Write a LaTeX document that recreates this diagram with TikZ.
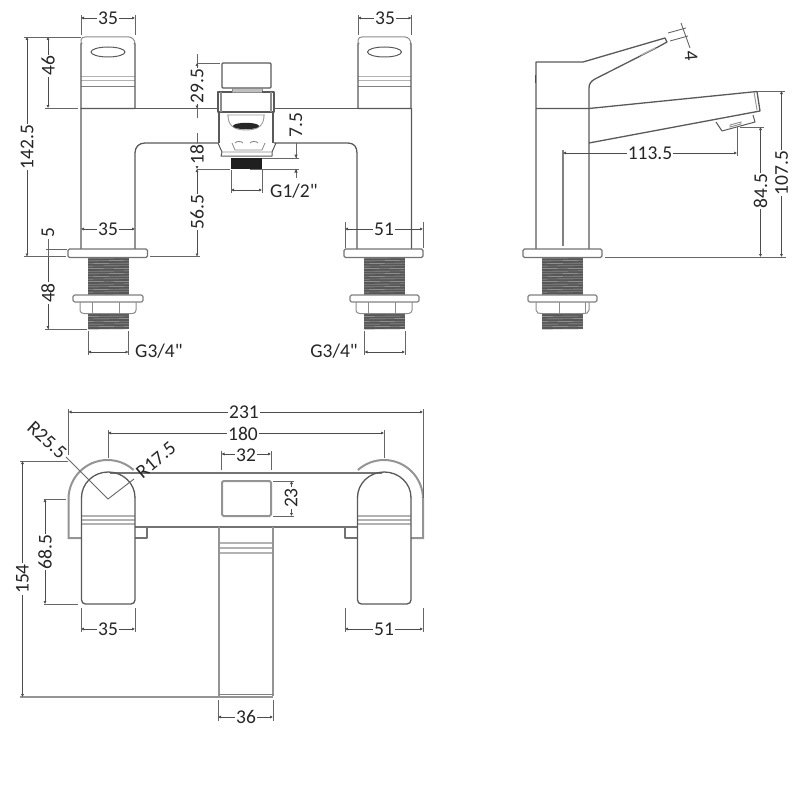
\documentclass[tikz,border=0pt]{standalone}
\usepackage{fontspec}
\newfontfamily\lblfont{Carlito}
\usetikzlibrary{arrows.meta}
\tikzset{
  x=1pt,y=-1pt,
  body/.style={draw=black!65,line width=1.3pt,line join=round},
  light/.style={draw=black!30,line width=1.2pt},
  pale/.style={draw=black!45,line width=1.6pt},
  outl/.style={draw=black!42,line width=2pt},
  ext/.style={draw=black!60,line width=.9pt},
  dimen/.style={draw=black!70,line width=.9pt,{Latex[length=3pt,width=3.2pt]}-{Latex[length=3pt,width=3.2pt]}},
  lab/.style={font=\lblfont\fontsize{19.5}{19.5}\selectfont,text=black!85,fill=white,inner sep=1.2pt},
  labplain/.style={font=\lblfont\fontsize{19.5}{19.5}\selectfont,text=black!85,inner sep=1pt},
}
% thread block: x1 x2 y1 y2
\newcommand{\thrd}[4]{%
  \fill[black!66] (#1,#3) rectangle (#2,#4);
  \begin{scope}
    \clip (#1,#3) rectangle (#2,#4);
    \foreach \yy in {0,2.6,...,40}{\draw[black!32,line width=.4pt] (#1,#3+\yy+.8) -- (#2,#3+\yy+.4);}
  \end{scope}
}
% foot assembly: plate x1 x2, thread x1 x2, flange x1 x2, nut x1 x2, nut line a
\newcommand{\foot}[9]{%
  \thrd{#3}{#4}{257.5}{295}
  \thrd{#3}{#4}{313}{329}
  \draw[body,draw=black!55,fill=white,rounded corners=1.5pt] (#1,249) rectangle (#2,257.5);
  \draw[body,draw=black!50,line width=1.1pt,fill=white,rounded corners=1.5pt] (#5,295) rectangle (#6,302);
  \draw[light,draw=black!45,line width=1pt] (#7,302) -- (#7,310) .. controls (#7,313) and (#7+3,314) .. (#3,313.5) -- (#4,313.5) .. controls (#8-3,314) and (#8,313) .. (#8,310) -- (#8,302);
  \draw[light,draw=black!45,line width=1pt] (#9,302) -- (#9,313);
}
\begin{document}
\begin{tikzpicture}
\useasboundingbox (0,0) rectangle (800,800);

%%%%%%%% FRONT VIEW
% handles
\foreach \a/\b in {81/135,358/411}{
  \draw[light] (\a,76.5) -- (\b,76.5) (\a,80.5) -- (\b,80.5);
  \draw[body,draw=black!50,line width=1pt] (\a,86) -- (\b,86);
  \draw[body] (\a+1,43) -- (\a,44) -- (\a,108.5) -- (\b,108.5) -- (\b,44) -- (\b-1,43);
  \draw[pale,line width=1pt] (\a,44) -- (\a,40) .. controls (\a,38) and (\a+2,37) .. (\a+4,37) -- (\b-6,37) .. controls (\b-3,37) and (\b,40) .. (\b,44);
  \draw[body,line width=1pt] (\a/2+\b/2,52) ellipse [x radius=17,y radius=5];
}
% body
\draw[body] (135,108.5) -- (218,108.5) (274,108.5) -- (358,108.5);
\draw[body] (81,108) -- (81,249) (135,249) -- (135,153) .. controls (135,147) and (139,143) .. (145,143) -- (218,143);
\draw[body] (274,143) -- (348,143) .. controls (354,143) and (357,147) .. (357,153) -- (357,249) (411.5,108) -- (411.5,249);
% shower head stack
\draw[body,rounded corners=1pt] (222,88) -- (222,63) -- (271,63) -- (271,88) -- cycle;
\draw[fill=black!25,draw=black!45] (232,88) rectangle (262,92);
\draw[body] (232,92) -- (218,92) -- (218,112) -- (274,112) -- (274,92) -- (262,92);
\draw[black!45,line width=1.1pt] (221,92) -- (221,112) (271,92) -- (271,112);
\draw[body] (219,112) -- (219,143) (273,112) -- (273,143);
\draw[black!40,line width=.9pt] (227,115) -- (265,115) (228,115) .. controls (228,124) and (232,130) .. (246,130) .. controls (260,130) and (264,124) .. (264,115);
\fill[black!85] (246,126) ellipse [x radius=13,y radius=3.2];
\draw[black!50,line width=.8pt] (235,143) .. controls (236,141) and (242,141) .. (243,143) (250,143) .. controls (251,141) and (257,141) .. (258,143);
\draw[body,line width=1pt] (218,143) -- (222,152) -- (221,156) -- (272,156) -- (272,152) -- (276,143);
\draw[black!45,line width=.8pt] (222,152) -- (272,152) (232,143) -- (235,150) -- (262,150) -- (265,143);
\fill[black!88] (231,158) rectangle (262,169);
% feet
\foot{68}{147.5}{88}{129}{73}{143}{80}{136}{92}
\draw[black!45,line width=1pt] (119,302) -- (119,313);
\foot{344}{423}{364}{404.5}{350}{419}{356}{412}{368}
\draw[black!45,line width=1pt] (395,302) -- (395,313);

%%%%%%%% FRONT DIMENSIONS
\draw[ext] (81,15) -- (81,35) (135,15) -- (135,35) (358,15) -- (358,35) (411.5,15) -- (411.5,35);
\draw[dimen] (81,18) -- (135,18);
\node[lab] (d35a) at (108,18) {35};
\draw[dimen] (358,18) -- (411.5,18);
\node[lab] (d35b) at (385,18) {35};

\draw[ext] (24,37) -- (81,37) (45,108) -- (78,108) (24,256.5) -- (66,256.5);
\draw[dimen] (27,37) -- (27,256.5);
\node[lab,rotate=90] (d142) at (27,147) {142.5};
\draw[dimen] (48,37) -- (48,108);
\node[lab,rotate=90] (d46) at (48,66) {46};

\draw[ext] (46,249) -- (67,249) (45,329) -- (87,329);
\draw[ext] (48,239) -- (48,329);
\draw[dimen,-{Latex[length=3pt,width=3.2pt]}] (48,257) -- (48,329);
\node[labplain,rotate=90] (d5) at (48,233) {5};
\node[lab,rotate=90] (d48) at (48,293) {48};

\draw[dimen] (81,229) -- (135,229);
\node[lab] (d35c) at (108,229) {35};
\draw[ext] (345,222) -- (345,248) (423,222) -- (423,248);
\draw[dimen] (345,229) -- (423,229);
\node[lab] (d51a) at (384,229) {51};

\draw[ext] (88,331) -- (88,355) (128.5,331) -- (128.5,355);
\draw[dimen] (88,352) -- (128.5,352);
\node[labplain,anchor=west] (g1) at (134,351) {G3/4"};
\draw[ext] (364.5,331) -- (364.5,355) (405,331) -- (405,355);
\draw[dimen] (364.5,352) -- (405,352);
\node[labplain,anchor=east] (g2) at (359,351) {G3/4"};

\draw[ext] (197,63) -- (220,63) (197,169) -- (230,169) (150,256.5) -- (200,256.5);
\draw[ext] (197,54) -- (197,118);
\draw[dimen] (197,63) -- (197,108.5);
\node[lab,rotate=90] (d29) at (197,86) {29.5};
\draw[ext] (197,133) -- (197,143);
\draw[dimen] (197,143) -- (197,169);
\node[lab,rotate=90] (d18) at (197,155) {18};
\draw[dimen] (197,169) -- (197,256.5);
\node[lab,rotate=90] (d56) at (197,212) {56.5};

\draw[ext] (262,158) -- (299,158) (250,169) -- (299,169);
\draw[ext] (296,143) -- (296,158) (296,169) -- (296,178);
\fill[black!70] (296,158) -- +(-1.7,-3.5) -- +(1.7,-3.5) -- cycle (296,169) -- +(-1.7,3.5) -- +(1.7,3.5) -- cycle;
\node[labplain,rotate=90] (d75) at (296,125) {7.5};

\draw[ext] (231,170) -- (231,193) (262,170) -- (262,193);
\draw[dimen] (231,190) -- (262,190);
\node[labplain,anchor=west] (g3) at (269,191) {G1/2"};

%%%%%%%% SIDE VIEW
\draw[body] (536,249) -- (536,62) -- (583,62) -- (665,38) -- (667,42) -- (658,47);
\draw[body] (658,47) -- (595,79) .. controls (591,81) and (589,84) .. (589,88) -- (589,249);
\draw[light] (655,48) -- (641,55);
\draw[black!70,line width=1.6pt] (535.5,75) -- (535.5,83);
\draw[body] (536,108.5) -- (589,108.5) -- (757,91.5) -- (760,111) -- (589,143);
\draw[black!40,line width=1pt] (754,92) -- (757,110);
\draw[body,line width=1pt] (716,122) -- (722,131) -- (755,122) -- (753,115);
\draw[black!45,line width=.9pt] (730,127) -- (741,124) -- (741,122) -- (730,125) -- cycle;
\foot{523}{602}{542}{583}{528}{597}{536}{589}{559}
\draw[black!45,line width=1pt] (585,302) -- (585,313);
\draw[body,draw=black!50] (563,150) -- (563,246);

% side dims
\draw[ext] (668,33) -- (686,28) (670,41) -- (688,36);
\draw[ext] (681,23) -- (690,48);
\node[labplain,rotate=-85] (d4) at (691,56) {4};

\draw[dimen] (563,153) -- (737,153);
\draw[ext] (737,127) -- (737,156);
\node[lab] (d113) at (650,153) {113.5};

\draw[ext] (740,127) -- (764,127) (757,91) -- (785,91) (605,257) -- (786,257);
\draw[dimen] (760.5,127) -- (760.5,257);
\node[lab,rotate=90] (d84) at (760.5,191) {84.5};
\draw[dimen] (781.5,91) -- (781.5,257);
\node[lab,rotate=90] (d107) at (781.5,173) {107.5};

%%%%%%%% PLAN VIEW
% outer arcs and tabs
\draw[outl] (81,538) -- (68.5,538) -- (68.5,499) arc[start angle=180,end angle=312,radius=39];
\draw[outl] (411,538) -- (423,538) -- (423,499) arc[start angle=0,end angle=-132,radius=39];
\draw[body,draw=black!55] (135,527) -- (147,527) -- (147,538) -- (135,538);
\draw[body,draw=black!55] (357,527) -- (345,527) -- (345,538) -- (357,538);
% deck
\draw[body,draw=black!55] (110,473) -- (382,473) (135,527) -- (357,527);
% handles
\foreach \a/\b/\c in {81.5/135/108.25,357.5/411/384.25}{
  \draw[light] (\a,516) -- (\b,516) (\a,520) -- (\b,520) (\a,524) -- (\b,524);
  \draw[body] (\a,497.5) arc[start angle=180,end angle=360,x radius=26.75,y radius=25.5];
  \draw[body,rounded corners=4pt] (\a,497) -- (\a,604) -- (\b,604) -- (\b,497);
}
% controls
\draw[outl,rounded corners=1.5pt] (222,481) rectangle (271,516);
% spout
\draw[light] (218,543) -- (273,543) (218,548) -- (273,548) (218,553) -- (273,553);
\draw[outl] (219,527) -- (219,696) (273,527) -- (273,696);
\draw[body,draw=black!50,line width=1pt] (219,694.5) -- (273,694.5);
\draw[outl] (218,697) -- (273,697);

% radii
\draw[ext] (66,457) -- (108,499) -- (134,479);
\node[labplain,rotate=-42] (r25) at (47,440) {R25.5};
\node[labplain,rotate=40] (r17) at (156,460) {R17.5};

% plan dims
\draw[ext] (68.5,409) -- (68.5,455) (423,409) -- (423,498) (108,430) -- (108,458) (384,430) -- (384,458);
\draw[dimen] (68.5,412) -- (423,412);
\node[lab] (d231) at (244,412) {231};
\draw[dimen] (108,433) -- (384,433);
\node[lab] (d180) at (243,434) {180};
\draw[ext] (221.5,451) -- (221.5,470) (271,451) -- (271,470);
\draw[dimen] (221.5,454) -- (271,454);
\node[lab] (d32) at (246,455) {32};
\draw[ext] (273,481) -- (294,481) (273,516) -- (294,516);
\draw[dimen] (291.5,481) -- (291.5,516);
\node[lab,rotate=90] (d23) at (291,498) {23};

\draw[ext] (20,461) -- (68,461) (44,499) -- (66,499) (44,604) -- (78,604);
\draw[outl,line width=1.6pt] (20,697) -- (218,697);
\draw[dimen] (22.5,461) -- (22.5,697);
\node[lab,rotate=90] (d154) at (22.5,579) {154};
\draw[dimen] (45,499) -- (45,604);
\node[lab,rotate=90] (d68) at (45,552) {68.5};

\draw[ext] (81,608) -- (81,632) (135,608) -- (135,632) (345,608) -- (345,632) (423,608) -- (423,632) (218,700) -- (218,721) (273,700) -- (273,721);
\draw[dimen] (81,629) -- (135,629);
\node[lab] (d35d) at (108,629) {35};
\draw[dimen] (345,629) -- (423,629);
\node[lab] (d51b) at (384,629) {51};
\draw[dimen] (218,717) -- (273,717);
\node[lab] (d36) at (246,717) {36};
\end{tikzpicture}
\end{document}
